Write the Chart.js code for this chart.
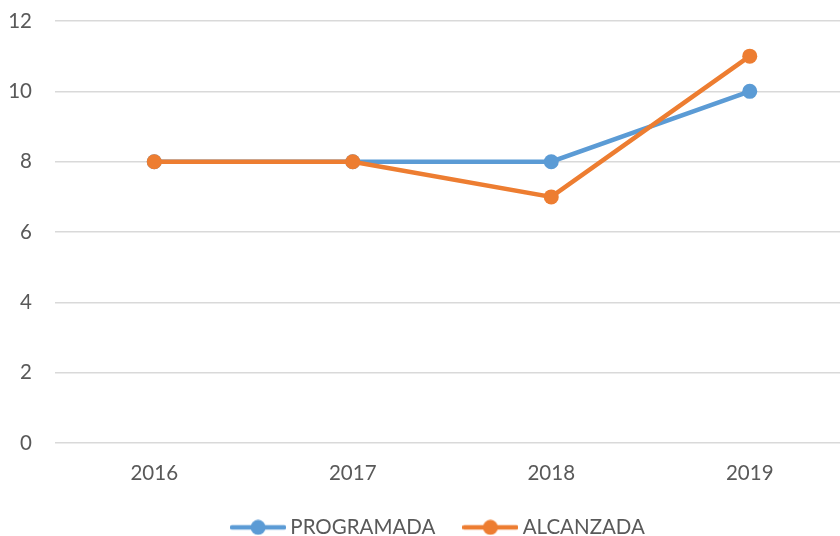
<!DOCTYPE html>
<html>
<head>
<meta charset="utf-8">
<script src="https://cdn.jsdelivr.net/npm/chart.js@4.4.1/dist/chart.umd.min.js"></script>
<style>
html,body{margin:0;padding:0;background:#fff;overflow:hidden;}
#c{display:block;}
</style>
</head>
<body>
<canvas id="c" width="849" height="536"></canvas>
<script>
const categories = ["2016", "2017", "2018", "2019"];
const programada = [8, 8, 8, 10];
const alcanzada = [8, 8, 7, 11];
const seriesNames = ["PROGRAMADA", "ALCANZADA"];
const yTicks = [0, 2, 4, 6, 8, 10, 12];

const BLUE = "#5B9BD5";
const ORANGE = "#ED7D31";
const TEXT = "#595959";
const FONT = "Lato, 'Open Sans', sans-serif";

function legendIcon(color) {
  const cv = document.createElement("canvas");
  cv.width = 56; cv.height = 16;
  const g = cv.getContext("2d");
  g.strokeStyle = color; g.lineWidth = 4.5; g.lineCap = "round";
  g.beginPath(); g.moveTo(2, 8); g.lineTo(54, 8); g.stroke();
  g.fillStyle = color;
  g.beginPath(); g.arc(28, 8, 7.5, 0, Math.PI * 2); g.fill();
  return cv;
}
const icons = [legendIcon(BLUE), legendIcon(ORANGE)];

const legendShift = {
  id: "legendShift",
  afterLayout(chart) {
    const lg = chart.legend;
    if (!lg) return;
    const dx = 16, dy = -5;
    lg.left += dx; lg.right += dx; lg.top += dy; lg.bottom += dy;
  }
};

new Chart(document.getElementById("c"), {
  type: "line",
  data: {
    labels: categories,
    datasets: [
      { label: seriesNames[0], data: programada, borderColor: BLUE, backgroundColor: BLUE,
        borderWidth: 4.5, pointRadius: 7.5, pointBorderWidth: 0, pointBackgroundColor: BLUE, order: 1, tension: 0 },
      { label: seriesNames[1], data: alcanzada, borderColor: ORANGE, backgroundColor: ORANGE,
        borderWidth: 4.5, pointRadius: 7.5, pointBorderWidth: 0, pointBackgroundColor: ORANGE, order: 0, tension: 0 }
    ]
  },
  plugins: [legendShift],
  options: {
    responsive: false,
    animation: false,
    layout: { autoPadding: false, padding: { left: 0, top: 21, right: 0, bottom: -16.6 } },
    plugins: {
      tooltip: { enabled: false },
      legend: {
        position: "bottom",
        labels: {
          usePointStyle: true,
          pointStyleWidth: 44,
          boxHeight: 16,
          padding: 33,
          color: TEXT,
          font: { family: FONT, size: 20.5 },
          generateLabels: (chart) => chart.data.datasets.map((ds, i) => ({
            text: ds.label, pointStyle: icons[i], fillStyle: ds.borderColor,
            strokeStyle: ds.borderColor, lineWidth: 0, hidden: false, datasetIndex: i, fontColor: TEXT
          }))
        }
      }
    },
    scales: {
      x: {
        offset: true,
        grid: { display: false, drawTicks: false },
        border: { display: false },
        ticks: { color: TEXT, font: { family: FONT, size: 20.5 }, padding: 18 },
        afterFit: (s) => { s.height = 46; s.paddingLeft = 0; s.paddingRight = 0; }
      },
      y: {
        min: 0, max: 12,
        grid: { color: "#d9d9d9", lineWidth: 1.5, drawTicks: false },
        border: { display: false },
        ticks: {
          stepSize: 2, color: TEXT, font: { family: FONT, size: 20.5 }, padding: 23,
          callback: (v) => yTicks.includes(v) ? String(v) : null
        },
        afterFit: (s) => { s.width = 55; s.paddingTop = 0; s.paddingBottom = 0; }
      }
    }
  }
});
</script>
</body>
</html>
